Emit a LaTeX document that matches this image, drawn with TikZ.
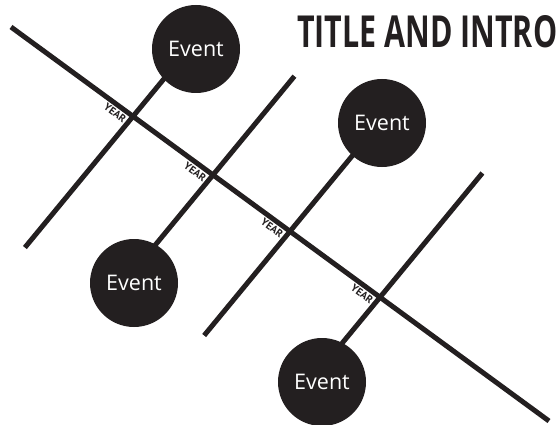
\documentclass[tikz,border=0pt]{standalone}
\usepackage{fontspec}
\setmainfont{Open Sans}
\newfontfamily\yearfont{PT Sans}
\usetikzlibrary{calc}
\definecolor{ink}{RGB}{35,31,32}
\tikzset{
  bar/.style={draw=ink, line width=5pt},
  eventdot/.style={circle, fill=ink, minimum size=88pt, inner sep=0pt, text=white, font=\fontsize{21.5}{24}\selectfont},
  yearlbl/.style={rotate=-36.2, anchor=north east, inner xsep=4pt, inner ysep=4pt, text=ink, font=\yearfont\bfseries\fontsize{10.5}{11}\selectfont}
}
\begin{document}
\begin{tikzpicture}[x=1pt, y=-1pt]
\useasboundingbox (0,0) rectangle (559,425);
% main timeline
\coordinate (M0) at (11,27);
\coordinate (M1) at (549,421);
\coordinate (X1) at ($(M0)!0.2268!(M1)$);
\coordinate (X2) at ($(M0)!0.3755!(M1)$);
\coordinate (X3) at ($(M0)!0.5186!(M1)$);
\coordinate (X4) at ($(M0)!0.6859!(M1)$);
\draw[bar] (M0) -- (M1);
% cross lines
\coordinate (B1) at ($(X1)+(129.5:170)$);
\coordinate (T1) at ($(X1)+(-50.5:60)$);
\coordinate (T2) at ($(X2)+(-50.5:128)$);
\coordinate (B2) at ($(X2)+(129.5:110)$);
\coordinate (B3) at ($(X3)+(129.5:135)$);
\coordinate (T3) at ($(X3)+(-50.5:110)$);
\coordinate (T4) at ($(X4)+(-50.5:161)$);
\coordinate (B4) at ($(X4)+(129.5:70)$);
\draw[bar] (B1) -- (T1);
\draw[bar] (B2) -- (T2);
\draw[bar] (B3) -- (T3);
\draw[bar] (B4) -- (T4);
% events
\node[eventdot] (E1) at (196,49) {Event};
\node[eventdot] (E2) at (382,123) {Event};
\node[eventdot] (E3) at (134,283) {Event};
\node[eventdot] (E4) at (322,382) {Event};
% year labels
\node[yearlbl] (Y1) at (X1) {YEAR};
\node[yearlbl] (Y2) at (X2) {YEAR};
\node[yearlbl] (Y3) at (X3) {YEAR};
\node[yearlbl] (Y4) at (X4) {YEAR};
% title
\node[anchor=south west, inner sep=0pt, text=ink] (title) at (297,48) {\resizebox{260pt}{32pt}{\bfseries TITLE AND INTRO}};
\end{tikzpicture}
\end{document}
